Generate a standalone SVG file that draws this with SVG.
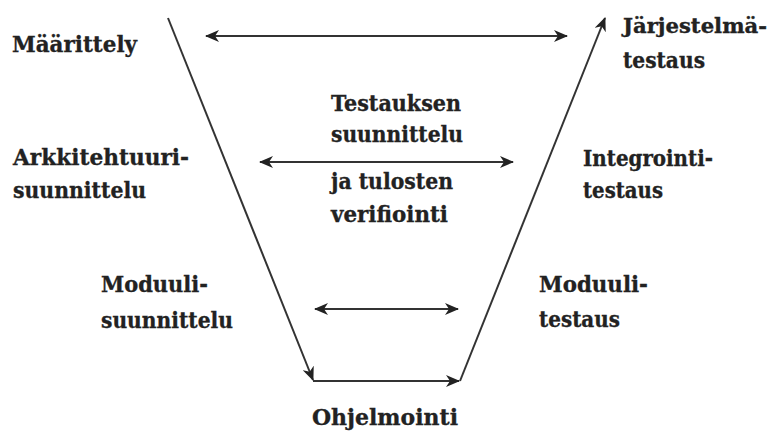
<svg xmlns="http://www.w3.org/2000/svg" width="773" height="437" viewBox="0 0 773 437">
  <style>
    .lbl { font-family: "DejaVu Serif", "Liberation Serif", serif; font-weight: bold; font-size: 23px; fill: #222; stroke: #222; stroke-width: 0.35; }
    .edge { font-size: 21px; }
    .conn { stroke: #333; stroke-width: 2; fill: none; }
  </style>
  <defs>
    <marker id="arrow" viewBox="0 0 14 12" refX="13" refY="6" markerWidth="14" markerHeight="12" markerUnits="userSpaceOnUse" orient="auto-start-reverse">
      <path d="M0,0 L14,6 L0,12 L4,6 z" fill="#222"/>
    </marker>
  </defs>
  <rect width="773" height="437" fill="#fff"/>

  <!-- V-model flow and correspondence arrows -->
  <g id="connectors">
    <line class="conn" x1="168" y1="18" x2="313" y2="380" marker-end="url(#arrow)"/>
    <line class="conn" x1="313" y1="381" x2="459" y2="381" marker-end="url(#arrow)"/>
    <line class="conn" x1="460" y1="381" x2="605" y2="18" marker-end="url(#arrow)"/>
    <line class="conn" x1="206" y1="36" x2="567" y2="36" marker-start="url(#arrow)" marker-end="url(#arrow)"/>
    <line class="conn" x1="260" y1="162" x2="513" y2="162" marker-start="url(#arrow)" marker-end="url(#arrow)"/>
    <line class="conn" x1="315" y1="309" x2="458" y2="309" marker-start="url(#arrow)" marker-end="url(#arrow)"/>
  </g>

  <g id="maarittely">
    <text class="lbl" x="12" y="52" textLength="125" lengthAdjust="spacingAndGlyphs">Määrittely</text>
  </g>
  <g id="arkkitehtuurisuunnittelu">
    <text class="lbl" x="13" y="165" textLength="176" lengthAdjust="spacingAndGlyphs">Arkkitehtuuri-</text>
    <text class="lbl" x="13" y="198" textLength="133" lengthAdjust="spacingAndGlyphs">suunnittelu</text>
  </g>
  <g id="moduulisuunnittelu">
    <text class="lbl" x="101" y="292" textLength="107" lengthAdjust="spacingAndGlyphs">Moduuli-</text>
    <text class="lbl" x="101" y="328" textLength="132" lengthAdjust="spacingAndGlyphs">suunnittelu</text>
  </g>
  <g id="ohjelmointi">
    <text class="lbl" x="312" y="425" textLength="146" lengthAdjust="spacingAndGlyphs">Ohjelmointi</text>
  </g>
  <g id="moduulitestaus">
    <text class="lbl" x="539" y="292" textLength="109" lengthAdjust="spacingAndGlyphs">Moduuli-</text>
    <text class="lbl" x="539" y="327" textLength="81" lengthAdjust="spacingAndGlyphs">testaus</text>
  </g>
  <g id="integrointitestaus">
    <text class="lbl" x="583" y="166" textLength="130" lengthAdjust="spacingAndGlyphs">Integrointi-</text>
    <text class="lbl" x="583" y="198" textLength="80" lengthAdjust="spacingAndGlyphs">testaus</text>
  </g>
  <g id="jarjestelmatestaus">
    <text class="lbl edge" x="623" y="33" textLength="144" lengthAdjust="spacingAndGlyphs">Järjestelmä-</text>
    <text class="lbl" x="623" y="68" textLength="82" lengthAdjust="spacingAndGlyphs">testaus</text>
  </g>
  <g id="testauksen-suunnittelu">
    <text class="lbl" x="331" y="111" textLength="130" lengthAdjust="spacingAndGlyphs">Testauksen</text>
    <text class="lbl" x="331" y="142" textLength="132" lengthAdjust="spacingAndGlyphs">suunnittelu</text>
    <text class="lbl" x="331" y="189" textLength="122" lengthAdjust="spacingAndGlyphs">ja tulosten</text>
    <text class="lbl" x="331" y="222" textLength="117" lengthAdjust="spacingAndGlyphs">verifiointi</text>
  </g>
</svg>
